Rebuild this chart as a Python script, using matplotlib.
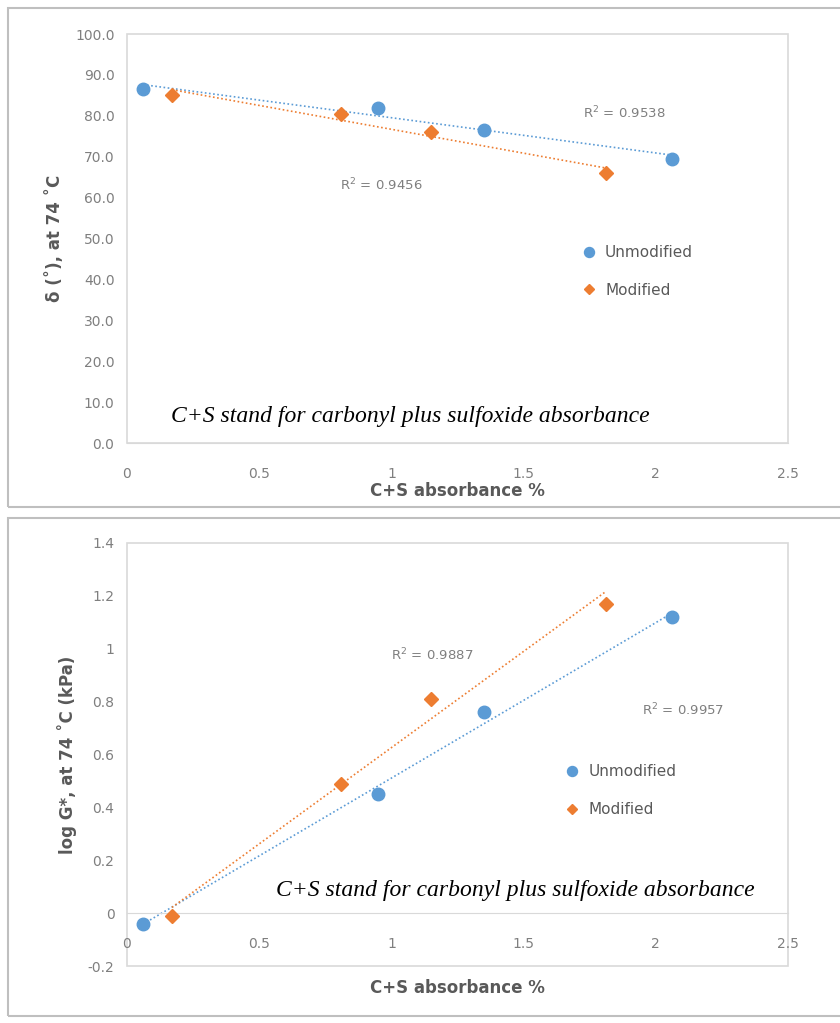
import numpy as np
import matplotlib.pyplot as plt
from matplotlib.patches import Rectangle

# --- data ---
x_unmod = [0.06, 0.95, 1.35, 2.06]
x_mod = [0.17, 0.81, 1.15, 1.81]

delta_unmod = [86.5, 82.0, 76.5, 69.5]
delta_mod = [85.0, 80.5, 76.0, 66.0]
r2_delta = ["0.9538", "0.9456"]

logg_unmod = [-0.04, 0.45, 0.76, 1.12]
logg_mod = [-0.01, 0.49, 0.81, 1.17]
r2_logg = ["0.9957", "0.9887"]

blue = "#5B9BD5"
orange = "#ED7D31"
grey_txt = "#595959"
note = "C+S stand for carbonyl plus sulfoxide absorbance"

fig = plt.figure(figsize=(8.4, 10.23), dpi=100)

# panel frames (figure pixels -> fractions)
W, H = 840, 1023
for (x0, y0, x1, y1) in [(8, 8, 845, 507), (8, 518, 845, 1016)]:
    fig.patches.append(Rectangle((x0 / W, 1 - y1 / H), (x1 - x0) / W, (y1 - y0) / H,
                                 transform=fig.transFigure, fill=False,
                                 edgecolor="#BFBFBF", linewidth=1.5))


def trend(ax, x, y, color):
    k, b = np.polyfit(x, y, 1)
    xs = np.array([min(x), max(x)])
    ax.plot(xs, k * xs + b, linestyle=(0, (1, 1.5)), color=color, linewidth=1.2, zorder=2)


def style(ax, ylim, yticks, yfmt, ylabel):
    ax.set_xlim(0, 2.5)
    ax.set_ylim(*ylim)
    ax.set_xticks([0, 0.5, 1, 1.5, 2, 2.5])
    ax.set_xticklabels(["0", "0.5", "1", "1.5", "2", "2.5"])
    ax.set_yticks(yticks)
    ax.set_yticklabels([yfmt(v) for v in yticks])
    for s in ["top", "right", "left"]:
        ax.spines[s].set_visible(False)
    ax.spines["bottom"].set_position(("data", 0))
    ax.spines["bottom"].set_color("#D9D9D9")
    ax.add_patch(Rectangle((0, 0), 1, 1, transform=ax.transAxes, fill=False,
                           edgecolor="#D9D9D9", linewidth=1.2, clip_on=False))
    ax.tick_params(length=0, labelsize=10, colors="#7F7F7F", pad=9)
    ax.tick_params(axis="x", pad=17)
    ax.set_xlabel("C+S absorbance %", fontsize=12, fontweight="bold", color=grey_txt)
    ax.set_ylabel(ylabel, fontsize=12, fontweight="bold", color=grey_txt, labelpad=8)


# --- top panel: phase angle ---
ax1 = fig.add_axes([127 / W, 1 - 443 / H, 661 / W, 409 / H])
trend(ax1, x_unmod, delta_unmod, blue)
trend(ax1, x_mod, delta_mod, orange)
ax1.plot(x_unmod, delta_unmod, "o", color=blue, markersize=9, label="Unmodified", zorder=3)
ax1.plot(x_mod, delta_mod, "D", color=orange, markersize=7, label="Modified", zorder=3)
style(ax1, (0, 100), np.arange(0, 101, 10), lambda v: f"{v:.1f}", "δ (˚), at 74 ˚C")
ax1.xaxis.set_label_coords(0.5, -0.095)
ax1.text(1.88, 80.7, "R$^2$ = " + r2_delta[0], ha="center", va="center", fontsize=9.5, color="#7F7F7F")
ax1.text(0.96, 63.1, "R$^2$ = " + r2_delta[1], ha="center", va="center", fontsize=9.5, color="#7F7F7F")
ax1.legend(loc="upper left", bbox_to_anchor=(0.655, 0.518), frameon=False, fontsize=11,
           labelcolor=grey_txt, handletextpad=0.05, markerscale=0.8, labelspacing=1.5)
ax1.text(1.07, 6.5, note, ha="center", va="center", fontsize=17, style="italic",
         family="Liberation Serif", color="black")

# --- bottom panel: log G* ---
ax2 = fig.add_axes([127 / W, 1 - 966 / H, 661 / W, 423 / H])
trend(ax2, x_unmod, logg_unmod, blue)
trend(ax2, x_mod, logg_mod, orange)
ax2.plot(x_unmod, logg_unmod, "o", color=blue, markersize=9, label="Unmodified", zorder=3)
ax2.plot(x_mod, logg_mod, "D", color=orange, markersize=7, label="Modified", zorder=3)
style(ax2, (-0.2, 1.4), np.round(np.arange(-0.2, 1.41, 0.2), 1),
      lambda v: f"{v:g}", "log G*, at 74 ˚C (kPa)")
ax2.xaxis.set_label_coords(0.5, -0.03)
ax2.text(2.10, 0.768, "R$^2$ = " + r2_logg[0], ha="center", va="center", fontsize=9.5, color="#7F7F7F")
ax2.text(1.154, 0.976, "R$^2$ = " + r2_logg[1], ha="center", va="center", fontsize=9.5, color="#7F7F7F")
ax2.legend(loc="upper left", bbox_to_anchor=(0.63, 0.51), frameon=False, fontsize=11,
           labelcolor=grey_txt, handletextpad=0.05, markerscale=0.8, labelspacing=1.5)
ax2.text(1.47, 0.085, note, ha="center", va="center", fontsize=17, style="italic",
         family="Liberation Serif", color="black")

fig.savefig("out.png", dpi=100)
